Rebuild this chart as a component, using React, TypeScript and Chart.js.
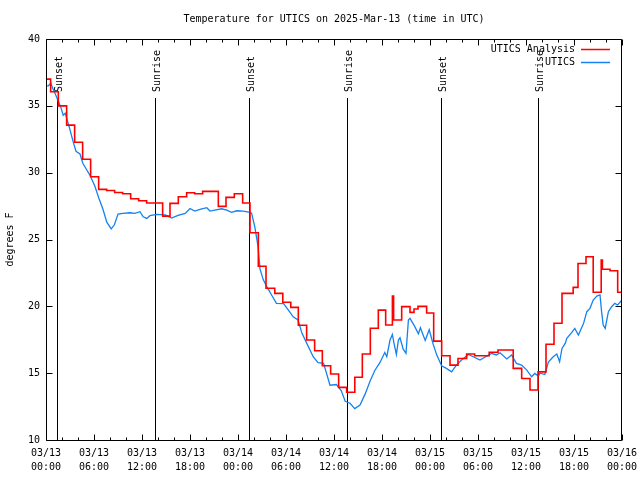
import React, { useEffect, useRef } from 'react';
import { Chart, registerables } from 'chart.js';

Chart.register(...registerables);

const FONT = '"DejaVu Sans Mono", monospace';

const titleText = 'Temperature for UTICS on 2025-Mar-13 (time in UTC)';
const yAxisTitle = 'degrees F';
const seriesNames = ['UTICS Analysis', 'UTICS'];

// x axis: hours since 03/13 00:00 UTC
const xTickLabels = [
  ['03/13', '00:00'], ['03/13', '06:00'], ['03/13', '12:00'], ['03/13', '18:00'],
  ['03/14', '00:00'], ['03/14', '06:00'], ['03/14', '12:00'], ['03/14', '18:00'],
  ['03/15', '00:00'], ['03/15', '06:00'], ['03/15', '12:00'], ['03/15', '18:00'],
  ['03/16', '00:00'],
];
const yTickLabels = ['10', '15', '20', '25', '30', '35', '40'];

// Analysis (red, stepped): hour at which each value starts, and the value
const analysisHours = [
  0, 0.58, 1.54, 2.58, 3.58, 4.58, 5.58, 6.58, 7.58, 8.58, 9.58, 10.58, 11.58, 12.58,
  14.58, 15.5, 16.54, 17.58, 18.58, 19.58, 21.54, 22.5, 23.54, 24.58, 25.5, 26.54, 27.5,
  28.6, 29.6, 30.6, 31.54, 32.58, 33.58, 34.54, 35.58, 36.58, 37.58, 38.6, 39.54, 40.54,
  41.54, 42.46, 43.3, 43.45, 44.46, 45.5, 46.0, 46.5, 47.58, 48.46, 49.46, 50.5, 51.5,
  52.58, 53.58, 55.4, 56.5, 58.4, 59.46, 60.5, 61.5, 62.5, 63.5, 64.5, 65.9, 66.5, 67.5,
  68.4, 69.4, 69.55, 70.5, 71.46, 72,
];
const analysisTemps = [
  37.0, 36.05, 35.0, 33.56, 32.27, 31.0, 29.7, 28.75, 28.67, 28.52, 28.42, 28.05, 27.9, 27.73,
  26.75, 27.7, 28.2, 28.5, 28.42, 28.6, 27.48, 28.15, 28.42, 27.73, 25.5, 23.0, 21.35,
  20.97, 20.3, 19.92, 18.58, 17.48, 16.68, 15.56, 14.94, 13.94, 13.57, 14.69, 16.43, 18.36,
  19.72, 18.6, 20.77, 18.98, 19.98, 19.55, 19.8, 20.0, 19.5, 17.4, 16.3, 15.6, 16.1,
  16.43, 16.3, 16.56, 16.73, 15.36, 14.6, 13.74, 15.1, 17.16, 18.73, 20.97, 21.42, 23.2, 23.71,
  21.05, 23.46, 22.77, 22.66, 21.05, 21.05,
];

// Observations (blue)
const obsHours = [
  0, 0.3, 0.6, 0.85, 1.15, 1.5, 1.85, 2.15, 2.4, 2.6, 3.0, 3.4, 3.75, 4.25, 4.6, 5.1, 5.5,
  6.1, 6.6, 7.1, 7.6, 8.15, 8.55, 9.0, 9.6, 10.5, 11.1, 11.75, 12.15, 12.6, 13.0, 13.8,
  14.9, 15.7, 16.5, 17.4, 18.0, 18.6, 19.25, 20.1, 20.5, 21.1, 21.95, 22.6, 23.2, 23.85,
  24.65, 25.5, 25.7, 26.1, 26.5, 26.75, 27.15, 27.6, 28.2, 28.8, 29.7, 30.3, 30.9, 31.5,
  32.0, 32.6, 33.4, 34.0, 34.7, 35.5, 36.3, 36.9, 37.4, 38.0, 38.6, 39.25, 39.9, 40.5,
  41.1, 41.75, 42.35, 42.6, 43.0, 43.3, 43.5, 43.8, 44.05, 44.25, 44.65, 45.0, 45.3, 45.5,
  46.1, 46.55, 46.8, 47.4, 47.9, 48.4, 48.85, 49.45, 50.0, 50.7, 51.3, 51.95, 52.8, 53.4,
  54.25, 55.1, 55.7, 56.3, 56.75, 57.6, 58.2, 58.8, 59.45, 60.1, 60.7, 61.1, 61.55, 61.75,
  62.35, 62.8, 63.4, 63.85, 64.2, 64.5, 64.9, 65.1, 65.7, 66.1, 66.55, 67.2, 67.6, 68.0,
  68.4, 68.85, 69.25, 69.45, 69.65, 69.9, 70.3, 70.7, 71.1, 71.45, 72.0,
];
const obsTemps = [
  36.5, 36.5, 36.7, 36.3, 35.9, 35.4, 34.9, 34.3, 34.45, 34.05, 33.2, 32.3, 31.6, 31.4, 30.7, 30.2, 29.8,
  29.0, 28.1, 27.3, 26.3, 25.8, 26.1, 26.9, 26.95, 27.0, 26.95, 27.08, 26.7, 26.58, 26.78, 26.88,
  26.84, 26.6, 26.8, 26.95, 27.32, 27.12, 27.25, 27.38, 27.13, 27.2, 27.3, 27.2, 27.03, 27.15,
  27.12, 27.03, 26.97, 25.95, 24.5, 22.8, 22.0, 21.47, 20.85, 20.22, 20.2, 19.72, 19.22, 18.98,
  17.98, 17.23, 16.23, 15.78, 15.73, 14.1, 14.15, 13.7, 12.9, 12.75, 12.35, 12.62, 13.45, 14.4,
  15.2, 15.8, 16.55, 16.23, 17.48, 17.9, 17.23, 16.4, 17.48, 17.65, 16.8, 16.48, 18.97, 19.1,
  18.48, 17.95, 18.4, 17.45, 18.25, 17.15, 16.35, 15.55, 15.38, 15.1, 15.6, 15.98, 16.4, 16.23,
  15.98, 16.28, 16.48, 16.36, 16.53, 16.06, 16.36, 15.73, 15.6, 15.23, 14.73, 14.98, 14.78, 15.0,
  14.9, 15.83, 16.23, 16.43, 15.85, 16.85, 17.23, 17.6, 18.03, 18.35, 17.85, 18.73, 19.6, 19.85,
  20.47, 20.77, 20.85, 19.6, 18.6, 18.35, 19.6, 19.97, 20.22, 20.1, 20.47,
];

const sunHours = [1.41, 13.66, 25.42, 37.67, 49.38, 61.54];
const sunLabels = ['Sunset', 'Sunrise', 'Sunset', 'Sunrise', 'Sunset', 'Sunrise'];

const RED = '#ff0000';
const BLUE = '#1482f0';

const decorPlugin = {
  id: 'decor',
  beforeDatasetsDraw(chart: any) {
    const { ctx, chartArea: a, scales } = chart;
    const x = scales.x;
    ctx.save();
    ctx.strokeStyle = '#000';
    ctx.fillStyle = '#000';
    ctx.lineWidth = 1;
    ctx.font = `10px ${FONT}`;
    sunHours.forEach((h, i) => {
      const px = Math.round(x.getPixelForValue(h)) + 0.5;
      ctx.beginPath();
      ctx.moveTo(px, a.top + 59);
      ctx.lineTo(px, a.bottom);
      ctx.stroke();
      ctx.save();
      ctx.translate(px + 2, a.top + 53);
      ctx.rotate(-Math.PI / 2);
      ctx.textAlign = 'left';
      ctx.textBaseline = 'middle';
      ctx.fillText(sunLabels[i], 0, 0);
      ctx.restore();
    });
    ctx.restore();
  },
  afterDraw(chart: any) {
    const { ctx, chartArea: a, scales } = chart;
    const x = scales.x;
    const y = scales.y;
    ctx.save();
    ctx.strokeStyle = '#000';
    ctx.lineWidth = 1;
    const L = a.left + 0.5, R = a.right - 0.5, T = a.top + 0.5, B = a.bottom + 0.5;
    ctx.beginPath();
    ctx.rect(L, T, R - L, B - T);
    ctx.stroke();
    ctx.beginPath();
    // x ticks: major every 6h, minor every 2h
    for (let h = x.min; h <= x.max + 1e-6; h += 2) {
      const px = Math.round(x.getPixelForValue(h)) + 0.5;
      const len = Math.abs(h % 6) < 1e-6 ? 6 : 3;
      ctx.moveTo(px, B); ctx.lineTo(px, B - len);
      ctx.moveTo(px, T); ctx.lineTo(px, T + len);
    }
    y.ticks.forEach((t: any) => {
      const py = Math.round(y.getPixelForValue(t.value)) + 0.5;
      ctx.moveTo(L, py); ctx.lineTo(L + 6, py);
      ctx.moveTo(R, py); ctx.lineTo(R - 6, py);
    });
    ctx.stroke();
    // legend
    ctx.font = `10px ${FONT}`;
    ctx.fillStyle = '#000';
    ctx.textAlign = 'right';
    ctx.textBaseline = 'middle';
    const colors = [RED, BLUE];
    seriesNames.forEach((name, i) => {
      const ly = a.top + 10 + i * 13;
      ctx.fillText(name, a.right - 47, ly);
      ctx.strokeStyle = colors[i];
      ctx.lineWidth = 1.5;
      ctx.beginPath();
      ctx.moveTo(a.right - 41, ly + 0.5);
      ctx.lineTo(a.right - 12, ly + 0.5);
      ctx.stroke();
    });
    ctx.restore();
  },
};

export default function App() {
  const ref = useRef<HTMLCanvasElement | null>(null);
  useEffect(() => {
    if (!ref.current) return;
    const chart = new Chart(ref.current, {
      type: 'line',
      data: {
        datasets: [
          {
            label: seriesNames[0],
            data: analysisHours.map((h, i) => ({ x: h, y: analysisTemps[i] })),
            borderColor: RED,
            borderWidth: 1.6,
            stepped: 'before',
            pointRadius: 0,
            fill: false,
          },
          {
            label: seriesNames[1],
            data: obsHours.map((h, i) => ({ x: h, y: obsTemps[i] })),
            borderColor: BLUE,
            borderWidth: 1.3,
            tension: 0,
            pointRadius: 0,
            fill: false,
          },
        ],
      },
      options: {
        responsive: false,
        animation: false,
        layout: { padding: { left: 0, right: 18, top: 0, bottom: 0 } },
        plugins: {
          legend: { display: false },
          tooltip: { enabled: false },
          title: {
            display: true,
            text: titleText,
            fullSize: false,
            color: '#000',
            font: { family: FONT, size: 10, weight: 'normal', lineHeight: 1.2 },
            padding: { top: 13, bottom: 14 },
          },
        },
        scales: {
          x: {
            type: 'linear',
            min: 0,
            max: 72,
            grid: { display: false, drawTicks: false },
            border: { display: false },
            ticks: {
              stepSize: 6,
              autoSkip: false,
              maxRotation: 0,
              padding: 6,
              color: '#000',
              font: { family: FONT, size: 10, lineHeight: 1.4 },
              callback: (_v: any, i: number) => xTickLabels[i],
            },
            afterFit: (s: any) => { s.height = 40; s.paddingLeft = 0; s.paddingRight = 0; },
          },
          y: {
            min: 10,
            max: 40,
            grid: { display: false, drawTicks: false },
            border: { display: false },
            title: {
              display: true,
              text: yAxisTitle,
              color: '#000',
              font: { family: FONT, size: 10, lineHeight: 1.2 },
              padding: { top: 4, bottom: 0 },
            },
            ticks: {
              stepSize: 5,
              padding: 6,
              color: '#000',
              font: { family: FONT, size: 10 },
              callback: (_v: any, i: number) => yTickLabels[i],
            },
            afterFit: (s: any) => { s.width = 46; s.paddingTop = 0; s.paddingBottom = 0; },
          },
        },
      },
      plugins: [decorPlugin],
    } as any);
    return () => chart.destroy();
  }, []);
  return (
    <div style={{ position: 'absolute', left: 0, top: 0, width: 640, height: 480, background: '#fff' }}>
      <canvas ref={ref} width={640} height={480} />
    </div>
  );
}
